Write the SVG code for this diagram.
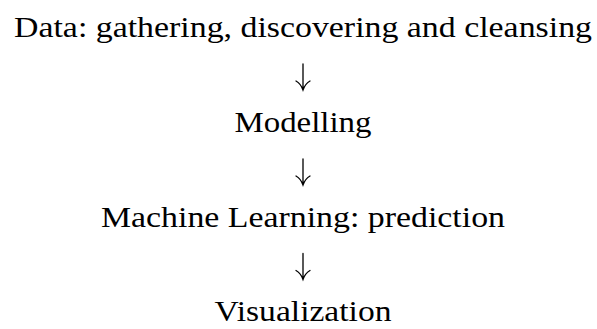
<svg xmlns="http://www.w3.org/2000/svg" width="597" height="329" viewBox="0 0 597 329">
<style>
.t{font-family:"Liberation Serif","Times New Roman",serif;font-size:29px;fill:#000;text-anchor:middle}
.a{fill:none;stroke:#000;stroke-width:1.3;stroke-linecap:round}
</style>
<rect width="597" height="329" fill="#fff"/>
<g id="n1"><text class="t" x="303" y="37" textLength="578" lengthAdjust="spacingAndGlyphs">Data: gathering, discovering and cleansing</text></g>
<g id="n2"><text class="t" x="303" y="131.5" textLength="137" lengthAdjust="spacingAndGlyphs">Modelling</text></g>
<g id="n3"><text class="t" x="303" y="226.5" textLength="404" lengthAdjust="spacingAndGlyphs">Machine Learning: prediction</text></g>
<g id="n4"><text class="t" x="303" y="321" textLength="177" lengthAdjust="spacingAndGlyphs">Visualization</text></g>
<g id="connectors">
<path class="a" d="M303 64V89.5M296 81Q301 84 303 90Q305 84 310 81"/>
<path class="a" d="M303 159V184.5M296 176Q301 179 303 185Q305 179 310 176"/>
<path class="a" d="M303 253.5V279M296 270.5Q301 273.5 303 279.5Q305 273.5 310 270.5"/>
</g>
</svg>
